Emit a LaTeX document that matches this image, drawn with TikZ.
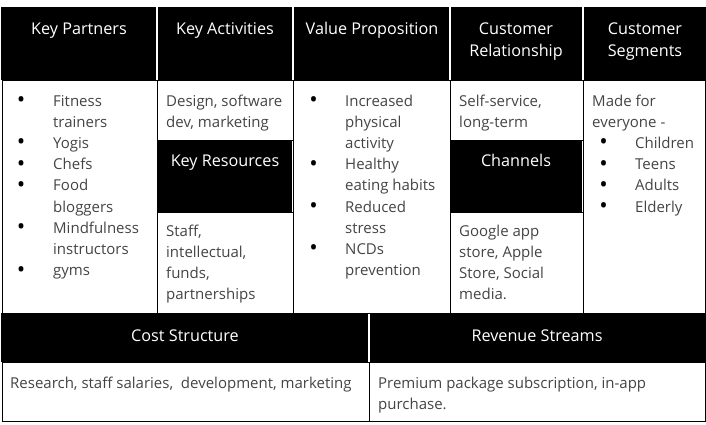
\documentclass[tikz,border=0pt]{standalone}
\usepackage{fontspec}
\usepackage{graphicx}
\setmainfont{Open Sans}
\definecolor{bodytxt}{HTML}{444444}
\newcommand{\bul}{\makebox[0pt][c]{\color{black}\raisebox{-0.1em}{\scalebox{1.5}{\textbullet}}}}
\newcommand{\el}{\mbox{}}
\tikzset{
  x=1pt,y=-1pt,
  hdrfill/.style={fill=black},
  cellbox/.style={draw=black,line width=1pt},
  hdrtxt/.style={text=white,font=\fontsize{16.2}{22}\selectfont,align=center,inner sep=0pt,anchor=base},
  bodytext/.style={text=bodytxt,inner sep=0pt,anchor=base west},
  bultext/.style={inner sep=0pt,anchor=base},
}
\newcommand{\lines}[2]{\parbox[t]{#1}{\fontsize{15}{21.2}\selectfont\raggedright #2}}
\begin{document}
\begin{tikzpicture}
\useasboundingbox (0,0) rectangle (706,424);
% body cells (white with borders)
\draw[cellbox] (2,80) rectangle (157,313);
\draw[cellbox] (157,80) rectangle (293,140);
\draw[cellbox] (157,212) rectangle (293,313);
\draw[cellbox] (293,80) rectangle (450,313);
\draw[cellbox] (450,80) rectangle (583,140);
\draw[cellbox] (450,212) rectangle (583,313);
\draw[cellbox] (583,80) rectangle (705,313);
\draw[cellbox] (2,362) rectangle (369,421);
\draw[cellbox] (369,362) rectangle (705,421);
% headers (black)
\fill[hdrfill] (1,7) rectangle (156,80);
\fill[hdrfill] (158,7) rectangle (292,80);
\fill[hdrfill] (294,7) rectangle (449,80);
\fill[hdrfill] (451,7) rectangle (582,80);
\fill[hdrfill] (584,7) rectangle (706,80);
\fill[hdrfill] (158,140) rectangle (292,212);
\fill[hdrfill] (451,140) rectangle (582,212);
\fill[hdrfill] (1,313) rectangle (368,362);
\fill[hdrfill] (370,313) rectangle (706,362);
% header texts
\node[hdrtxt] (hkp) at (79,34) {Key Partners};
\node[hdrtxt] (hka) at (225,34) {Key Activities};
\node[hdrtxt] (hvp) at (372,34) {Value Proposition};
\node[hdrtxt] (hcr) at (516,56) {Customer\\Relationship};
\node[hdrtxt] (hcs) at (645,56) {Customer\\Segments};
\node[hdrtxt] (hkr) at (225,166) {Key Resources};
\node[hdrtxt] (hch) at (516,166) {Channels};
\node[hdrtxt] (hcost) at (185,341) {Cost Structure};
\node[hdrtxt] (hrev) at (537,341) {Revenue Streams};
% Key Partners
\node[bultext] (kpb) at (26,106) {\lines{10pt}{\bul\\\el\\\bul\\\bul\\\bul\\\el\\\bul\\\el\\\bul}};
\node[bodytext] (kpt) at (53,106) {\lines{110pt}{Fitness\\trainers\\Yogis\\Chefs\\Food\\bloggers\\Mindfulness\\instructors\\gyms}};
% Key Activities
\node[bodytext] (kat) at (166,106) {\lines{130pt}{Design, software\\dev, marketing}};
% Key Resources
\node[bodytext] (krt) at (166,236) {\lines{130pt}{Staff,\\intellectual,\\funds,\\partnerships}};
% Value Proposition
\node[bultext] (vpb) at (318.5,106) {\lines{10pt}{\bul\\\el\\\el\\\bul\\\el\\\bul\\\el\\\bul}};
\node[bodytext] (vpt) at (345,106) {\lines{110pt}{Increased\\physical\\activity\\Healthy\\eating habits\\Reduced\\stress\\NCDs\\prevention}};
% Customer Relationship
\node[bodytext] (crt) at (459,106) {\lines{130pt}{Self-service,\\long-term}};
% Channels
\node[bodytext] (cht) at (459,236) {\lines{130pt}{Google app\\store, Apple\\Store, Social\\media.}};
% Customer Segments
\node[bodytext] (cst) at (592,106) {\lines{110pt}{Made for\\everyone -}};
\node[bultext] (csb) at (608.5,148.4) {\lines{10pt}{\bul\\\bul\\\bul\\\bul}};
\node[bodytext] (csl) at (635,148.4) {\lines{80pt}{Children\\Teens\\Adults\\Elderly}};
% Cost / Revenue bodies
\node[bodytext] (cost) at (10,388) {\lines{360pt}{Research, staff salaries,\ \ development, marketing}};
\node[bodytext] (rev) at (378,388) {\lines{320pt}{Premium package subscription, in-app\\purchase.}};
\end{tikzpicture}
\end{document}
